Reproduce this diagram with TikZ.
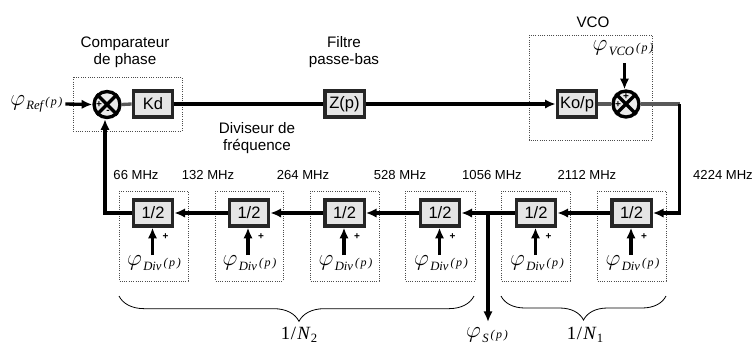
\documentclass[tikz,border=0pt]{standalone}
\usepackage{fontspec}
\setmainfont{Liberation Sans}
\newfontfamily\serifi[ItalicFont=Liberation Serif Italic]{Liberation Serif}
\usetikzlibrary{arrows.meta,decorations.pathreplacing,calc}
\newcommand{\philab}[1]{\mbox{\fontsize{16}{16}\selectfont$\varphi$\hspace{1pt}\raisebox{-3.5pt}{\serifi\itshape\fontsize{9.5}{10}\selectfont #1}\hspace{1.5pt}\raisebox{-0.5pt}{\serifi\itshape\fontsize{9}{10}\selectfont (\hspace{1.2pt}p\hspace{1.2pt})}}}
\newcommand{\nlab}[1]{\mbox{\serifi\fontsize{14}{14}\selectfont 1\hspace{0.5pt}/\hspace{1pt}\textit{N}\raisebox{-2.5pt}{\fontsize{9.5}{10}\selectfont #1}}}
\tikzset{
  x=0.75pt,y=-0.75pt,
  blockb/.style={draw=black!85,line width=2.5pt,fill=black!10,inner sep=0pt,minimum width=29.5pt,minimum height=19.5pt,font=\fontsize{12.4}{13}\selectfont},
  sumc/.style={circle,draw=black,line width=2.5pt,fill=black!8,inner sep=0pt,minimum size=19.5pt},
  dotb/.style={draw=black!70,densely dotted,line width=0.7pt},
  wire/.style={draw=black,line width=2.5pt},
  stub/.style={draw=black!65,line width=2.5pt},
  arr/.style={wire,-{Latex[length=8pt,width=7pt]}},
  ttl/.style={font=\fontsize{11.4}{12.8}\selectfont,align=center,inner sep=0pt},
  fq/.style={font=\fontsize{9.8}{10}\selectfont,inner sep=0pt},
  sgn/.style={font=\fontsize{7.5}{8}\selectfont\bfseries,inner sep=0pt},
  brc/.style={draw=black,line width=0.6pt,decorate},
  lab/.style={inner sep=0pt}
}
\begin{document}
\begin{tikzpicture}
\useasboundingbox (0,0) rectangle (753,344);
% dotted frames
\draw[dotb] (73,77) rectangle (182,131);
\draw[dotb] (529,35) rectangle (652,140);
\foreach \a/\b in {119/188,215/283,310/379,405/475,501/570,597/666}
  \draw[dotb] (\a,191) rectangle (\b,281);
% top row
\node[sumc] (cmp) at (107,104.5) {};
\node[blockb] (kd) at (153,104) {Kd};
\node[blockb] (z) at (344.5,104) {Z(p)};
\node[blockb] (ko) at (577,104) {Ko/p};
\node[sumc] (vsum) at (626,104) {};
\draw[line width=2.5pt] (cmp.45)--(cmp.225) (cmp.135)--(cmp.315);
\draw[line width=2.5pt] (vsum.45)--(vsum.225) (vsum.135)--(vsum.315);
\node[sgn] at (99,105) {+};
\node[sgn] at (108,112) {-};
\node[sgn] at (626,97) {+};
\node[sgn] at (618,104.5) {+};
% labels top
\node[lab,anchor=west] (pref) at (10,104) {\philab{Ref}};
\node[lab] (pvco) at (623,48) {\philab{VCO}};
\coordinate (pvcoend) at (624.5,63);
\node[ttl] at (125,52) {Comparateur\\de phase};
\node[ttl] at (344,52) {Filtre\\passe-bas};
\node[ttl] at (593,22) {VCO};
\node[ttl] at (257,138) {Diviseur de\\fréquence};
% divider row
\node[blockb] (d6) at (153,213) {1/2};
\node[blockb] (d5) at (249,213) {1/2};
\node[blockb] (d4) at (344.5,213) {1/2};
\node[blockb] (d3) at (440,213) {1/2};
\node[blockb] (d2) at (536,213) {1/2};
\node[blockb] (d1) at (631.5,213) {1/2};
\foreach \n/\x in {d1/631,d2/535.5,d3/439.5,d4/344,d5/248,d6/152.5}{
  \node[lab] (p\n) at (\x+1.5,263) {\philab{Div}};
  \coordinate (s\n) at (\x,255);
  \draw[arr] (s\n) -- (\n.south -| s\n);
  \node[sgn] at (\x+13,237) {+};
}
% connectors
\coordinate (bend1) at (679.5,104);
\coordinate (bend2) at (679.5,213);
\coordinate (bend3) at (105,213);
\coordinate (tap) at (488,213);
\coordinate (sout) at (488,322);
\draw[arr] ([xshift=2pt]pref.east) -- (cmp.west);
\draw[stub] (cmp.east) -- (kd.west);
\draw[wire] (kd.east) -- (z.west);
\draw[arr] (z.east) -- (ko.west);
\draw[stub] (ko.east) -- (vsum.west);
\draw[arr] (pvcoend) -- (vsum.north -| pvcoend);
\draw[stub] (vsum.east) -- (bend1);
\draw[arr,line join=miter] (bend1) -- (bend2) -- (d1.east);
\draw[arr] (d1.west) -- (d2.east);
\draw[arr] (d2.west) -- (d3.east);
\draw[arr] (d3.west) -- (d4.east);
\draw[arr] (d4.west) -- (d5.east);
\draw[arr] (d5.west) -- (d6.east);
\draw[arr] (d6.west) -- (bend3) -- (cmp.south -| bend3);
\draw[arr] (tap) -- (sout);
% frequencies
\node[fq] at (136,175) {66 MHz};
\node[fq] at (208,175) {132 MHz};
\node[fq] at (303,175) {264 MHz};
\node[fq] at (400,175) {528 MHz};
\node[fq] at (492,175) {1056 MHz};
\node[fq] at (587,175) {2112 MHz};
\node[fq] at (723,175) {4224 MHz};
% braces
\coordinate (b1a) at (119,296);
\coordinate (b1b) at (474,296);
\coordinate (b2a) at (501,296);
\coordinate (b2b) at (666,296);
\draw[brc,decoration={brace,mirror,amplitude=19pt,aspect=0.507}] (b1a) -- (b1b);
\draw[brc,decoration={brace,mirror,amplitude=18pt}] (b2a) -- (b2b);
\node[lab,anchor=base] (n2) at (299,339) {\nlab{2}};
\node[lab,anchor=base] (n1) at (585,339) {\nlab{1}};
\node[lab] (ps) at (487,335) {\philab{S}};
\end{tikzpicture}
\end{document}
